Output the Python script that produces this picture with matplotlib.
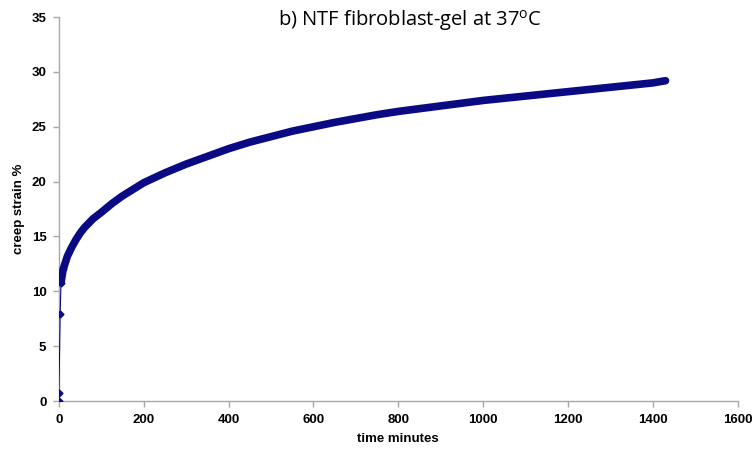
import numpy as np
import matplotlib
matplotlib.use("Agg")
import matplotlib.pyplot as plt

# creep test readings (minutes, strain %)
time_min = [0, 0, 3, 5, 10, 20, 30, 40, 50, 60, 80, 100, 125, 150, 175, 200,
            250, 300, 350, 400, 450, 500, 550, 600, 650, 700, 750, 800, 850,
            900, 950, 1000, 1050, 1100, 1150, 1200, 1250, 1300, 1350, 1400, 1430]
strain = [0.0, 0.7, 7.9, 10.8, 12.0, 13.2, 14.0, 14.7, 15.3, 15.8, 16.6, 17.2,
          18.0, 18.7, 19.3, 19.9, 20.8, 21.6, 22.3, 23.0, 23.6, 24.1, 24.6,
          25.0, 25.4, 25.75, 26.1, 26.4, 26.65, 26.9, 27.15, 27.4, 27.6, 27.8,
          28.0, 28.2, 28.4, 28.6, 28.8, 29.0, 29.2]

xticks = [0, 200, 400, 600, 800, 1000, 1200, 1400, 1600]
yticks = [0, 5, 10, 15, 20, 25, 30, 35]

plt.rcParams['font.family'] = ['Liberation Sans', 'DejaVu Sans']
plt.rcParams['mathtext.fontset'] = 'custom'
plt.rcParams['mathtext.rm'] = 'Open Sans'

fig = plt.figure(figsize=(7.55, 4.61), dpi=100)
ax = fig.add_axes([0.078, 0.130, 0.899, 0.833])

navy = '#0a0a85'
t = np.array(time_min)
s = np.array(strain)
# early points: thin line with diamonds
ax.plot(t[:5], s[:5], color=navy, lw=0.8, marker='D', ms=3.5, zorder=3)
# dense record after loading: thick band of markers
ax.plot(t[3:], s[3:], color=navy, lw=5.5, solid_capstyle='round',
        solid_joinstyle='round', zorder=3)

ax.set_xlim(0, 1600)
ax.set_ylim(0, 35)
ax.set_xticks(xticks)
ax.set_yticks(yticks)
for sp in ['top', 'right']:
    ax.spines[sp].set_visible(False)
for sp in ['left', 'bottom']:
    ax.spines[sp].set_color('#a8a8a8')
    ax.spines[sp].set_linewidth(1.0)
ax.tick_params(direction='out', length=4, color='#a8a8a8', width=1.0,
               labelsize=9.5, pad=5)
for lab in ax.get_xticklabels() + ax.get_yticklabels():
    lab.set_fontweight('bold')

ax.set_xlabel('time minutes', fontsize=9.5, fontweight='bold', labelpad=5)
ax.set_ylabel('creep strain %', fontsize=9.5, fontweight='bold', labelpad=5)

fig.text(0.543, 0.955, r'b) NTF fibroblast-gel at 37$^{\mathrm{o}}$C',
         fontsize=14.5, family='Open Sans', ha='center', va='center')

fig.savefig('out.png', dpi=100)
